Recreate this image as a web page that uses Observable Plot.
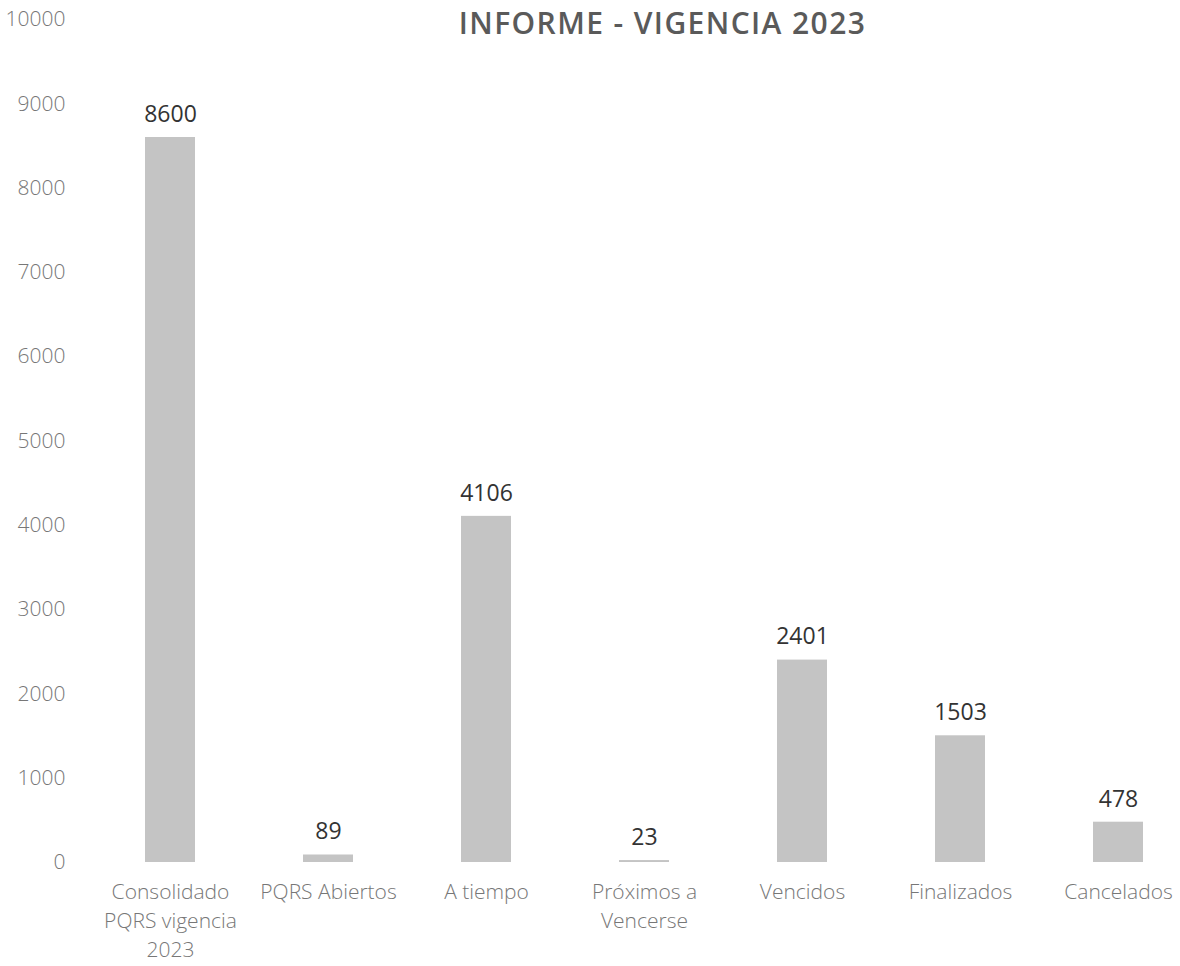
<!DOCTYPE html>
<html>
<head>
<meta charset="utf-8">
<script src="https://cdn.jsdelivr.net/npm/d3@7"></script>
<script src="https://cdn.jsdelivr.net/npm/@observablehq/plot@0.6"></script>
<style>
  html, body { margin: 0; padding: 0; background: #fff; }
  #chart svg { display: block; }
  .title-mark text { letter-spacing: 1.4px; }
</style>
</head>
<body>
<div id="chart"></div>
<script>
const title = "INFORME - VIGENCIA 2023";
const categories = ["Consolidado PQRS vigencia 2023", "PQRS Abiertos", "A tiempo", "Próximos a Vencerse", "Vencidos", "Finalizados", "Cancelados"];
const tickLabels = ["Consolidado\nPQRS vigencia\n2023", "PQRS Abiertos", "A tiempo", "Próximos a\nVencerse", "Vencidos", "Finalizados", "Cancelados"];
const values = [8600, 89, 4106, 23, 2401, 1503, 478];
const yTicks = [0, 1000, 2000, 3000, 4000, 5000, 6000, 7000, 8000, 9000, 10000];

const data = categories.map((c, i) => ({category: c, value: values[i]}));
const labelOf = new Map(categories.map((c, i) => [c, tickLabels[i]]));

const chart = Plot.plot({
  width: 1180,
  height: 966,
  marginTop: 19,
  marginBottom: 104,
  marginLeft: 80,
  marginRight: 0,
  style: {fontFamily: "'Open Sans', sans-serif", background: "#fff"},
  x: {domain: categories, paddingInner: 0.684, paddingOuter: 0.323, align: 0.632, label: null},
  y: {domain: [0, 10000], label: null},
  marks: [
    Plot.axisY({ticks: yTicks, tickFormat: d => String(d), tickSize: 0, tickPadding: 15, fontSize: 21, fontWeight: 300, fill: "#777", label: null}),
    Plot.axisX({tickSize: 0, tickPadding: 16, fontSize: 21, fontWeight: 300, fill: "#777", lineHeight: 1.38, tickFormat: d => labelOf.get(d), label: null}),
    Plot.barY(data, {x: "category", y: "value", fill: "#c4c4c4"}),
    Plot.text(data, {x: "category", y: "value", text: d => String(d.value), dy: -23, lineAnchor: "middle", fontSize: 23, fill: "#333"}),
    Plot.text([title], {frameAnchor: "top", dx: 32, dy: 5, lineAnchor: "middle", fontSize: 30, fontWeight: 600, fill: "#5a5a5a", className: "title-mark"})
  ]
});
document.getElementById("chart").appendChild(chart);
</script>
</body>
</html>
